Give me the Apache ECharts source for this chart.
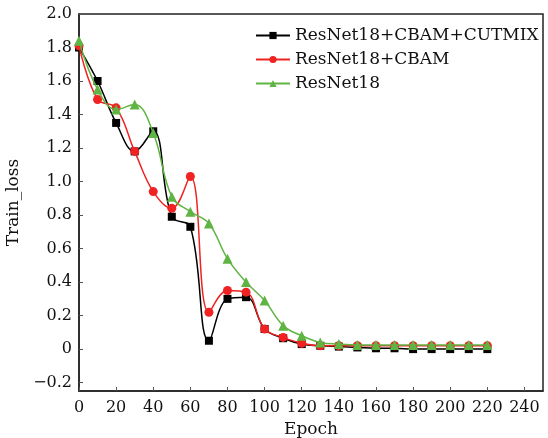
<!DOCTYPE html>
<html>
<head>
<meta charset="utf-8">
<script src="https://cdn.jsdelivr.net/npm/echarts@6/dist/echarts.min.js"></script>
<style>
  html, body { margin: 0; padding: 0; background: #fff; }
  #chart { width: 548px; height: 438px; }
</style>
</head>
<body>
<div id="chart"></div>
<script>
  // epochs sampled every 10
  var epochs = [0,10,20,30,40,50,60,70,80,90,100,110,120,130,140,150,160,170,180,190,200,210,220];
  var cutmix = [1.80,1.60,1.35,1.18,1.30,0.79,0.73,0.05,0.30,0.31,0.12,0.065,0.03,0.02,0.015,0.01,0.005,0.005,0.0,0.0,0.0,0.0,0.0];
  var cbam   = [1.81,1.49,1.44,1.18,0.94,0.84,1.03,0.22,0.35,0.34,0.12,0.07,0.035,0.02,0.02,0.02,0.02,0.02,0.02,0.02,0.02,0.02,0.02];
  var base   = [1.84,1.55,1.43,1.46,1.29,0.91,0.82,0.75,0.54,0.40,0.29,0.14,0.08,0.04,0.03,0.025,0.025,0.025,0.025,0.025,0.025,0.025,0.025];
  var xTicks = [0,20,40,60,80,100,120,140,160,180,200,220,240];
  var yTicks = [-0.2,0,0.2,0.4,0.6,0.8,1.0,1.2,1.4,1.6,1.8,2.0];

  var font = 'DejaVu Serif';

  function pairs(ys) {
    var out = [];
    for (var i = 0; i < ys.length; i++) out.push([epochs[i], ys[i]]);
    return out;
  }

  var chart = echarts.init(document.getElementById('chart'));
  chart.setOption({
    animation: false,
    grid: { left: 79, right: 5, top: 14, bottom: 47, outerBoundsMode: 'none' },
    legend: {
      left: 250,
      top: 22,
      orient: 'vertical',
      itemGap: 7,
      itemWidth: 34,
      itemHeight: 9,
      textStyle: { fontFamily: font, fontSize: 17, color: '#111' },
      data: ['ResNet18+CBAM+CUTMIX', 'ResNet18+CBAM', 'ResNet18']
    },
    xAxis: {
      type: 'value',
      min: 0,
      max: 250,
      name: 'Epoch',
      nameLocation: 'middle',
      nameGap: 30,
      nameTextStyle: { fontFamily: font, fontSize: 17, color: '#111' },
      axisLine: { onZero: false, lineStyle: { color: '#222', width: 1.5 } },
      axisTick: { inside: true, length: 4, customValues: xTicks, lineStyle: { color: '#555' } },
      axisLabel: { customValues: xTicks, fontFamily: font, fontSize: 16, color: '#111', margin: 9 },
      splitLine: { show: false }
    },
    yAxis: {
      type: 'value',
      min: -0.25,
      max: 2.0,
      name: 'Train_loss',
      nameLocation: 'middle',
      nameGap: 40,
      nameTextStyle: { fontFamily: font, fontSize: 17, color: '#111' },
      axisLine: { onZero: false, lineStyle: { color: '#222', width: 1.5 } },
      axisTick: { inside: true, length: 4, customValues: yTicks, lineStyle: { color: '#555' } },
      axisLabel: {
        customValues: yTicks,
        fontFamily: font, fontSize: 16, color: '#111', margin: 7,
        formatter: function (v) {
          if (Math.abs(v) < 1e-9) return '0';
          return (v < 0 ? '\u2212' : '') + Math.abs(v).toFixed(1);
        }
      },
      splitLine: { show: false }
    },
    series: [
      {
        name: 'ResNet18+CBAM+CUTMIX',
        type: 'line',
        data: pairs(cutmix),
        smooth: 0.4,
        symbol: 'rect',
        symbolSize: 8,
        itemStyle: { color: '#000' },
        lineStyle: { color: '#000', width: 1.5 },
        z: 2
      },
      {
        name: 'ResNet18+CBAM',
        type: 'line',
        data: pairs(cbam),
        smooth: 0.4,
        symbol: 'circle',
        symbolSize: 9,
        itemStyle: { color: '#f02222' },
        lineStyle: { color: '#f02222', width: 1.5 },
        z: 3
      },
      {
        name: 'ResNet18',
        type: 'line',
        data: pairs(base),
        smooth: 0.4,
        symbol: 'triangle',
        symbolSize: 10,
        itemStyle: { color: '#5fb443' },
        lineStyle: { color: '#5fb443', width: 1.5 },
        z: 4
      }
    ],
    graphic: [{
      type: 'rect',
      shape: { x: 79, y: 14, width: 464, height: 377 },
      style: { fill: null, stroke: '#222', lineWidth: 1.5 },
      silent: true,
      z: 0
    }]
  });
</script>
</body>
</html>
